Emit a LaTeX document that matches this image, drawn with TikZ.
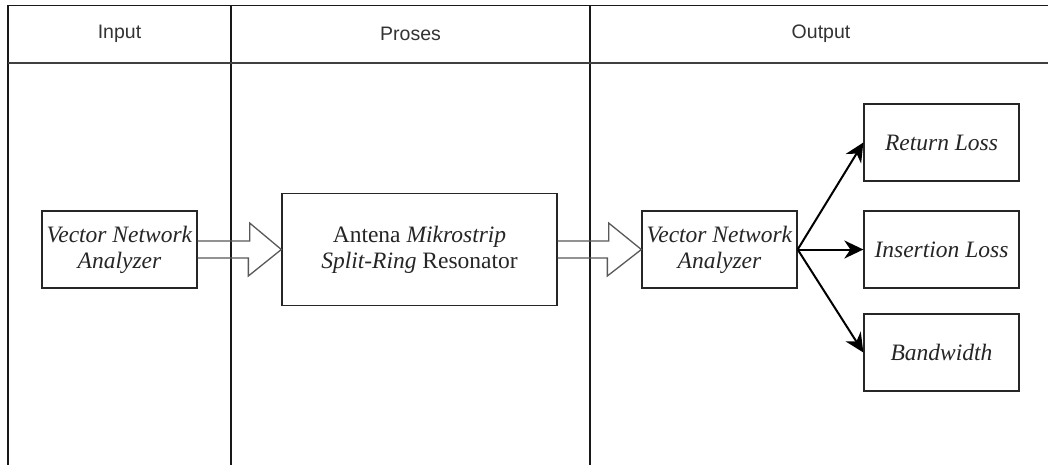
\documentclass[tikz,border=0pt]{standalone}
\usepackage{fontspec}
\setmainfont{Liberation Serif}
\newfontfamily\hfont{Liberation Sans}
\usetikzlibrary{arrows.meta,calc}
\begin{document}
\begin{tikzpicture}[x=1pt,y=-1pt,
  box/.style={draw=black!85, line width=1.3pt, inner sep=0pt, align=center,
    font=\fontsize{23.5}{26}\selectfont, text=black!85,
    minimum width=155pt, minimum height=77pt},
  lane/.style={draw=black!90, line width=1.2pt},
  hdr/.style={font=\hfont\fontsize{19.5}{22}\selectfont, text=black!80},
  hollow/.style={draw=black!65, line width=1.3pt, line join=miter},
  outarrow/.style={line width=2pt, -{Stealth[length=19pt,width=18pt,inset=6pt]}}
]
\useasboundingbox (0,0) rectangle (1048,464);
\fill[white] (0,0) rectangle (1048,464);
% swimlanes
\draw[lane] (8,470) -- (8,5.5) -- (1060,5.5);
\draw[lane] (231,5.5) -- (231,470);
\draw[lane] (590,5.5) -- (590,470);
\draw[draw=black!75, line width=2.2pt] (8,63) -- (1060,63);
\node[hdr] (hin) at (119.5,34) {Input};
\node[hdr] (hpr) at (410.5,34) {Proses};
\node[hdr] (hout) at (821,34) {Output};
% boxes
\node[box] (v1) at (119.5,249.5) {\textit{Vector Network}\\\textit{Analyzer}};
\node[box, minimum width=275pt, minimum height=112pt] (p) at (419.5,249.5)
  {Antena \textit{Mikrostrip}\\\textit{Split-Ring} Resonator};
\node[box] (v2) at (719.5,249.5) {\textit{Vector Network}\\\textit{Analyzer}};
\node[box] (r) at (941.5,142.5) {\textit{Return Loss}};
\node[box] (i) at (941.5,249.5) {\textit{Insertion Loss}};
\node[box] (b) at (941.5,352.5) {\textit{Bandwidth}};
% hollow arrows
\draw[hollow] ($(v1.east)+(0,-8.5)$) -- ++(52,0) -- ++(0,-18) -- (p.west)
  -- ($(p.west)+(-33,26.5)$) -- ++(0,-18) -- ($(v1.east)+(0,8.5)$);
\draw[hollow] ($(p.east)+(0,-8.5)$) -- ++(51,0) -- ++(0,-18) -- (v2.west)
  -- ($(v2.west)+(-34,26.5)$) -- ++(0,-18) -- ($(p.east)+(0,8.5)$);
% output arrows
\draw[outarrow] (v2.east) -- (r.west);
\draw[outarrow] (v2.east) -- (i.west);
\draw[outarrow] (v2.east) -- (b.west);
\end{tikzpicture}
\end{document}
